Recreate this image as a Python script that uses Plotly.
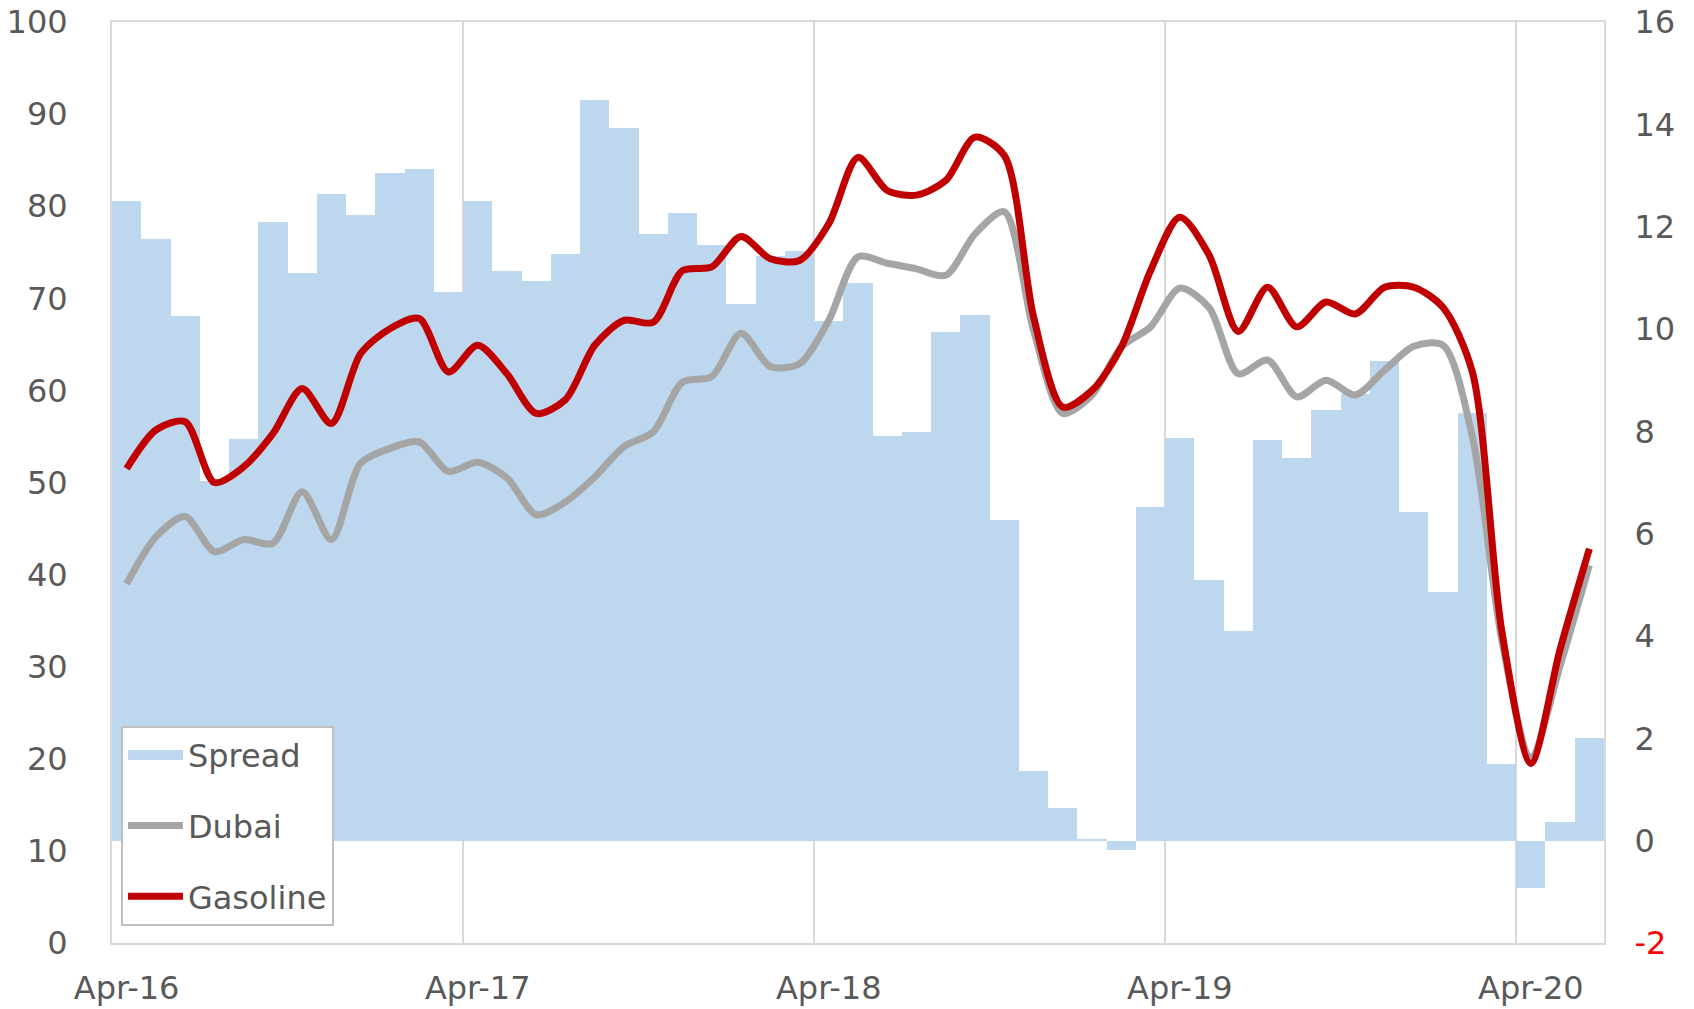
import pandas as pd
import plotly.graph_objects as go

months = list(pd.date_range("2016-04-01", "2020-06-01", freq="MS").strftime("%b-%y"))

gasoline = [51.5, 55.7, 56.6, 50.0, 51.7, 55.3, 60.2, 56.4, 64.0, 66.7, 67.8, 62.0,
            64.9, 61.8, 57.5, 59.0, 64.9, 67.6, 67.4, 73.0, 73.4, 76.7, 74.3, 74.1,
            78.1, 85.3, 81.7, 81.2, 82.8, 87.5, 85.5, 68.0, 58.2, 60.0, 64.7, 73.0,
            78.8, 74.7, 66.4, 71.2, 66.9, 69.6, 68.3, 71.2, 71.2, 69.0, 62.0, 34.0,
            19.5, 31.9, 42.8]

dubai = [39.0, 44.1, 46.3, 42.5, 43.8, 43.4, 49.0, 43.8, 52.1, 53.7, 54.4, 51.2,
         52.2, 50.5, 46.5, 47.9, 50.6, 53.9, 55.5, 60.9, 61.5, 66.2, 62.6, 62.9,
         67.6, 74.5, 73.8, 73.2, 72.5, 77.0, 79.4, 66.5, 57.5, 59.5, 64.7, 66.9,
         71.1, 69.0, 61.8, 63.3, 59.3, 61.1, 59.5, 62.2, 64.8, 64.9, 55.0, 33.0,
         20.2, 30.1, 41.0]

spread = [12.50, 11.75, 10.25, 7.03, 7.86, 12.10, 11.09, 12.63, 12.22, 13.05, 13.12, 10.73,
          12.51, 11.13, 10.93, 11.47, 14.48, 13.92, 11.85, 12.26, 11.65, 10.48, 11.43, 11.52,
          10.15, 10.89, 7.91, 7.99, 9.94, 10.28, 6.26, 1.37, 0.64, 0.03, -0.19, 6.52,
          7.87, 5.10, 4.10, 7.83, 7.48, 8.41, 8.72, 9.37, 6.42, 4.86, 8.36, 1.50,
          -0.93, 0.37, 2.00]

left_ticks = [0, 10, 20, 30, 40, 50, 60, 70, 80, 90, 100]
right_ticks = [-2, 0, 2, 4, 6, 8, 10, 12, 14, 16]

x = list(range(len(months)))
apr_idx = [i for i, m in enumerate(months) if m.startswith("Apr")]
boundaries = [i - 0.5 for i in apr_idx if i > 0]

FONT = "DejaVu Sans"
GREY = "#595959"
GRID = "#D9D9D9"
BAR = "#BDD7EE"

fig = go.Figure()
fig.add_trace(go.Bar(x=x, y=spread, name="Spread", marker=dict(color=BAR, line=dict(width=0)),
                     yaxis="y", width=1.0, showlegend=False))
# legend key for the bars (wide rectangle like the original)
fig.add_trace(go.Scatter(x=[None], y=[None], name="Spread", mode="lines",
                         line=dict(color=BAR, width=20), yaxis="y", legendgroup="a"))
fig.add_trace(go.Scatter(x=x, y=dubai, name="Dubai", mode="lines",
                         line=dict(color="#A5A5A5", width=7, shape="spline", smoothing=0.8),
                         yaxis="y2", legendgroup="b"))
fig.add_trace(go.Scatter(x=x, y=gasoline, name="Gasoline", mode="lines",
                         line=dict(color="#C00000", width=7, shape="spline", smoothing=0.8),
                         yaxis="y2", legendgroup="c"))

right_text = [("<span style='color:#FF0000'>%d</span>" % v) if v < 0 else str(v) for v in right_ticks]

fig.update_layout(
    width=1694, height=1009,
    margin=dict(l=112, r=90, t=22, b=66),
    paper_bgcolor="white", plot_bgcolor="white",
    font=dict(family=FONT, size=32, color=GREY),
    bargap=0,
    showlegend=True,
    hovermode=False,
    legend=dict(x=0.006, y=0.236, xanchor="left", yanchor="top",
                bgcolor="white", bordercolor="#BFBFBF", borderwidth=2,
                font=dict(size=32, color=GREY), tracegroupgap=26,
                itemwidth=55, traceorder="grouped"),
    xaxis=dict(range=[-0.5, len(months) - 0.5], tickmode="array", tickvals=apr_idx,
               ticktext=[months[i] for i in apr_idx], showgrid=False, ticks="",
               showline=True, linecolor=GRID, linewidth=2, mirror=True, zeroline=False,
               ticklabelstandoff=16, automargin=False,
               minor=dict(tickmode="array", tickvals=boundaries, showgrid=True,
                          gridcolor=GRID, gridwidth=1.5, ticks="")),
    yaxis=dict(side="right", range=[-2, 16], tickmode="array", tickvals=right_ticks,
               ticktext=right_text, showgrid=False, zeroline=False, ticks="",
               showline=True, linecolor=GRID, linewidth=2, ticklabelstandoff=22,
               automargin=False),
    yaxis2=dict(side="left", overlaying="y", range=[0, 100], tickmode="array",
                tickvals=left_ticks, showgrid=False, zeroline=False, ticks="",
                showline=True, linecolor=GRID, linewidth=2, ticklabelstandoff=36,
                automargin=False),
)

fig.write_html("out.html", config={"displayModeBar": False},
               post_script="document.body.style.margin='0';")
